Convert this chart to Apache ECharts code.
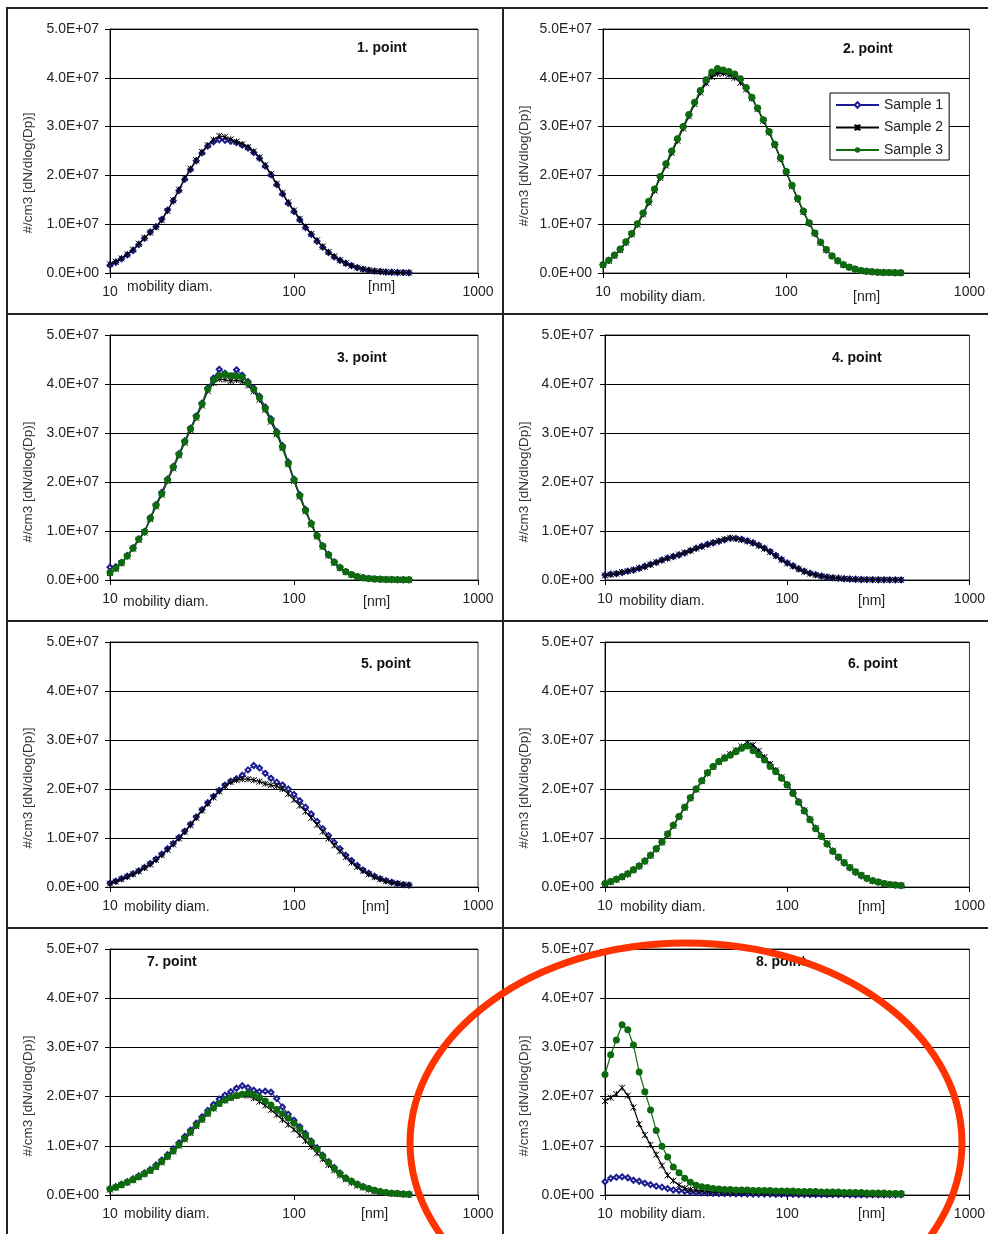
<!DOCTYPE html>
<html>
<head>
<meta charset="utf-8">
<script src="https://cdn.jsdelivr.net/npm/echarts@6/dist/echarts.min.js"></script>
<style>
  html, body { margin: 0; padding: 0; background: #fff; }
  #chart { width: 988px; height: 1234px; }
</style>
</head>
<body>
<div id="chart"></div>
<script>
// ---- DATA (particle number size distributions, values in 1e6 #/cm3) ----
const diam = [10.00,10.75,11.55,12.41,13.34,14.33,15.40,16.55,17.78,19.11,20.54,22.07,23.71,25.48,27.38,29.43,31.62,33.98,36.52,39.24,42.17,45.32,48.70,52.33,56.23,60.43,64.94,69.78,74.99,80.58,86.60,93.06,100.0,107.5,115.5,124.1,133.4,143.3,154.0,165.5,177.8,191.1,205.4,220.7,237.1,254.8,273.8,294.3,316.2,339.8,365.2,392.4,421.7];

const sampleNames = ['Sample 1', 'Sample 2', 'Sample 3'];
const panelTitles = ['1. point', '2. point', '3. point', '4. point', '5. point', '6. point', '7. point', '8. point'];
const xTickLabels = { 10: '10', 100: '100', 1000: '1000' };
const yTickLabels = ['0.0E+00', '1.0E+07', '2.0E+07', '3.0E+07', '4.0E+07', '5.0E+07'];
const xUnitText = '[nm]';
const xNameText = 'mobility diam.';
const yNameText = '#/cm3 [dN/dlog(Dp)]';

const p1s1 = [1.6,2.2,2.9,3.7,4.6,5.8,7.1,8.4,9.5,11.0,12.9,14.8,16.9,19.2,21.2,23.0,24.6,26.0,26.9,27.3,27.2,27.0,26.7,26.2,25.6,24.7,23.5,21.9,20.1,18.1,16.2,14.3,12.6,10.9,9.3,7.9,6.5,5.3,4.2,3.3,2.6,2.0,1.5,1.1,0.8,0.55,0.4,0.3,0.2,0.15,0.1,0.08,0.05];
const p1s2 = [1.8,2.3,3.0,3.8,4.8,6.0,7.2,8.3,9.4,10.8,12.7,14.9,17.1,19.4,21.4,23.1,24.8,26.2,27.3,28.1,27.9,27.4,26.9,26.4,25.8,24.9,23.7,22.1,20.3,18.3,16.4,14.5,12.8,11.1,9.5,8.0,6.7,5.4,4.3,3.4,2.6,2.0,1.5,1.1,0.8,0.6,0.4,0.3,0.2,0.15,0.1,0.07,0.05];

const p2s1 = [1.7,2.6,3.6,4.8,6.3,8.0,10.0,12.2,14.6,17.1,19.7,22.3,24.9,27.4,29.9,32.4,34.9,37.2,39.2,40.6,41.2,41.2,41.0,40.5,39.6,37.9,35.9,33.7,31.3,28.9,26.3,23.5,20.7,17.9,15.2,12.6,10.2,8.1,6.3,4.7,3.5,2.5,1.7,1.2,0.8,0.5,0.35,0.25,0.15,0.1,0.08,0.05,0.04];
const p2s2 = [1.6,2.5,3.5,4.7,6.2,7.9,9.9,12.0,14.4,16.9,19.5,22.0,24.6,27.1,29.6,32.1,34.6,37.0,38.9,40.2,40.8,40.9,40.6,40.0,39.0,37.6,35.8,33.6,31.2,28.8,26.2,23.4,20.6,17.8,15.1,12.5,10.2,8.1,6.2,4.7,3.5,2.5,1.7,1.2,0.8,0.5,0.35,0.25,0.15,0.1,0.07,0.05,0.04];
const p2s3 = [1.7,2.6,3.7,4.9,6.4,8.1,10.1,12.3,14.7,17.2,19.8,22.4,25.0,27.5,30.0,32.5,35.0,37.4,39.6,41.2,41.9,41.6,41.3,40.8,39.8,38.0,36.0,33.8,31.4,29.0,26.4,23.6,20.8,18.0,15.3,12.7,10.3,8.2,6.3,4.8,3.5,2.5,1.7,1.2,0.8,0.5,0.35,0.25,0.15,0.1,0.08,0.05,0.04];

const p3s1 = [2.6,2.7,3.6,5.0,6.6,8.4,9.9,12.7,15.4,17.9,20.6,23.2,25.8,28.4,31.0,33.5,36.1,39.2,41.2,43.0,42.2,41.5,42.9,41.8,40.5,39.2,37.5,35.3,32.9,30.3,27.4,24.1,20.6,17.4,14.4,11.6,9.1,7.0,5.2,3.7,2.6,1.7,1.1,0.7,0.45,0.3,0.2,0.15,0.1,0.08,0.06,0.05,0.04];
const p3s2 = [1.4,2.3,3.4,4.8,6.4,8.2,9.7,12.4,15.0,17.4,20.2,22.8,25.4,28.0,30.6,33.1,35.6,38.6,40.2,41.0,40.9,40.6,40.8,40.5,39.7,38.5,36.8,34.7,32.3,29.7,26.9,23.6,20.2,17.0,14.0,11.3,8.9,6.8,5.0,3.5,2.4,1.6,1.0,0.7,0.45,0.3,0.2,0.15,0.1,0.08,0.06,0.05,0.04];
const p3s3 = [1.5,2.4,3.5,4.9,6.5,8.3,9.8,12.6,15.2,17.6,20.4,23.0,25.6,28.2,30.8,33.3,35.9,39.0,40.8,41.7,42.0,41.7,41.6,41.4,40.2,38.9,37.2,35.0,32.6,30.0,27.1,23.8,20.4,17.2,14.2,11.5,9.0,6.9,5.1,3.6,2.5,1.7,1.1,0.7,0.45,0.3,0.2,0.15,0.1,0.08,0.06,0.05,0.04];

const p4s1 = [1.0,1.2,1.3,1.5,1.8,2.0,2.4,2.8,3.2,3.6,4.1,4.5,4.8,5.1,5.5,6.0,6.5,6.9,7.3,7.6,7.9,8.2,8.5,8.5,8.3,8.0,7.6,7.1,6.5,5.8,5.0,4.2,3.5,2.9,2.3,1.8,1.4,1.1,0.8,0.6,0.45,0.35,0.25,0.2,0.15,0.1,0.08,0.06,0.05,0.04,0.03,0.03,0.02];
const p4s2 = [0.9,1.1,1.3,1.6,1.8,2.1,2.4,2.7,3.1,3.6,4.0,4.4,4.8,5.2,5.6,6.0,6.4,6.8,7.2,7.6,8.0,8.3,8.6,8.4,8.2,7.9,7.5,7.0,6.4,5.7,4.9,4.1,3.4,2.8,2.2,1.7,1.3,1.0,0.8,0.6,0.45,0.35,0.25,0.2,0.15,0.1,0.08,0.06,0.05,0.04,0.03,0.02,0.02];

const p5s1 = [0.8,1.2,1.7,2.2,2.7,3.3,4.0,4.8,5.7,6.7,7.8,8.9,10.1,11.4,12.8,14.3,15.8,17.2,18.5,19.7,20.8,21.6,22.1,22.8,23.9,24.8,24.3,23.2,22.2,21.4,20.8,20.0,18.9,17.6,16.3,14.9,13.4,11.9,10.5,9.1,7.8,6.5,5.4,4.4,3.5,2.8,2.2,1.7,1.3,1.0,0.7,0.5,0.4];
const p5s2 = [0.7,1.1,1.6,2.1,2.6,3.2,3.9,4.6,5.5,6.5,7.6,8.7,9.9,11.2,12.6,14.1,15.6,17.0,18.3,19.5,20.6,21.4,21.8,22.0,22.0,21.8,21.5,21.1,20.8,20.6,20.0,19.0,17.8,16.6,15.4,14.1,12.7,11.3,9.9,8.5,7.3,6.1,5.0,4.1,3.3,2.6,2.0,1.6,1.2,0.9,0.7,0.5,0.35];

const p6s1 = [0.7,1.1,1.6,2.1,2.7,3.5,4.3,5.3,6.5,7.8,9.2,10.8,12.6,14.4,16.3,18.2,20.0,21.7,23.3,24.6,25.6,26.4,27.0,27.7,28.4,29.0,28.4,27.4,26.2,24.9,23.7,22.3,20.9,19.2,17.4,15.6,13.8,12.0,10.4,8.8,7.3,6.0,4.9,3.9,3.0,2.3,1.7,1.3,1.0,0.7,0.5,0.4,0.3];
const p6s2 = [0.6,1.0,1.5,2.0,2.6,3.4,4.2,5.2,6.4,7.7,9.1,10.7,12.5,14.3,16.2,18.1,19.9,21.6,23.2,24.5,25.5,26.4,27.1,27.9,28.7,29.4,29.0,27.8,26.5,25.1,23.8,22.4,20.9,19.2,17.4,15.6,13.8,12.0,10.4,8.9,7.4,6.1,5.0,4.0,3.1,2.4,1.8,1.3,1.0,0.7,0.5,0.4,0.3];
const p6s3 = [0.7,1.1,1.6,2.1,2.7,3.5,4.3,5.3,6.5,7.8,9.2,10.8,12.6,14.4,16.3,18.2,20.0,21.7,23.3,24.6,25.6,26.3,26.9,27.6,28.3,28.8,27.8,27.0,25.9,24.6,23.5,22.2,20.8,19.1,17.3,15.5,13.7,11.9,10.3,8.8,7.3,6.1,5.0,4.0,3.1,2.4,1.8,1.3,1.0,0.7,0.5,0.4,0.3];

const p7s1 = [1.3,1.7,2.2,2.7,3.3,3.9,4.5,5.2,6.1,7.1,8.2,9.4,10.6,11.9,13.2,14.6,15.9,17.2,18.4,19.5,20.3,21.0,21.7,22.2,21.8,21.3,21.0,21.1,20.9,19.6,17.9,16.4,15.2,13.9,12.5,11.0,9.6,8.1,6.8,5.6,4.5,3.5,2.8,2.2,1.7,1.3,0.95,0.7,0.5,0.35,0.3,0.2,0.15];
const p7s2 = [1.1,1.5,2.0,2.5,3.0,3.6,4.2,4.9,5.7,6.6,7.7,8.8,10.0,11.3,12.6,14.0,15.3,16.5,17.6,18.5,19.2,19.7,20.1,20.3,20.2,19.7,19.0,18.2,17.3,16.3,15.3,14.3,13.3,12.2,11.0,9.8,8.5,7.3,6.1,5.0,4.0,3.2,2.5,1.9,1.5,1.1,0.8,0.6,0.4,0.3,0.2,0.15,0.1];
const p7s3 = [1.2,1.6,2.1,2.6,3.1,3.7,4.3,5.0,5.8,6.8,7.9,9.0,10.2,11.5,12.8,14.2,15.4,16.6,17.7,18.6,19.3,19.8,20.2,20.5,20.7,20.4,19.8,19.1,18.3,17.4,16.5,15.6,14.6,13.4,12.1,10.7,9.3,7.9,6.6,5.4,4.3,3.4,2.8,2.2,1.7,1.3,0.95,0.7,0.5,0.35,0.3,0.2,0.15];

const p8s1 = [2.7,3.4,3.6,3.7,3.5,3.0,2.8,2.4,2.1,1.8,1.6,1.3,1.0,0.9,0.75,0.6,0.5,0.45,0.4,0.35,0.3,0.3,0.3,0.25,0.25,0.2,0.2,0.2,0.2,0.2,0.15,0.15,0.15,0.15,0.1,0.1,0.1,0.1,0.1,0.1,0.1,0.1,0.1,0.05,0.05,0.05,0.05,0.05,0.05,0.05,0.05,0.05,0.05];
const p8s2 = [19.1,19.8,20.5,21.8,20.2,17.8,14.4,12.2,10.2,8.2,6.0,4.0,2.9,2.0,1.4,1.1,1.0,0.9,0.8,0.7,0.7,0.6,0.6,0.5,0.5,0.5,0.4,0.4,0.4,0.4,0.3,0.3,0.3,0.3,0.3,0.3,0.2,0.2,0.2,0.2,0.2,0.2,0.2,0.2,0.15,0.15,0.15,0.15,0.1,0.1,0.1,0.1,0.1];
const p8s3 = [24.5,28.5,31.5,34.6,33.6,30.5,25.0,21.0,17.3,13.1,9.9,7.7,5.7,4.5,3.4,2.6,2.0,1.7,1.5,1.3,1.2,1.1,1.1,1.0,1.0,1.0,0.9,0.9,0.9,0.9,0.8,0.8,0.8,0.8,0.7,0.7,0.7,0.7,0.6,0.6,0.6,0.6,0.5,0.5,0.5,0.5,0.4,0.4,0.4,0.4,0.3,0.3,0.3];

const panelSamples = [
  [p1s1, p1s2, null],
  [p2s1, p2s2, p2s3],
  [p3s1, p3s2, p3s3],
  [p4s1, p4s2, null],
  [p5s1, p5s2, null],
  [p6s1, p6s2, p6s3],
  [p7s1, p7s2, p7s3],
  [p8s1, p8s2, p8s3]
];
const UNIT = 1e6;

// ---- LAYOUT / STYLE ----
const FONT = '"Liberation Sans", Arial, sans-serif';
const gridRects = [
  { left: 110, top: 29, width: 368, height: 244 },
  { left: 603, top: 29, width: 371, height: 244 },
  { left: 110, top: 335, width: 368, height: 245 },
  { left: 605, top: 335, width: 369, height: 245 },
  { left: 110, top: 642, width: 368, height: 245 },
  { left: 605, top: 642, width: 369, height: 245 },
  { left: 110, top: 949, width: 368, height: 246 },
  { left: 605, top: 949, width: 369, height: 246 }
];
const titlePos = [[357,48],[843,49],[337,358],[832,358],[361,664],[848,664],[147,962],[756,962]];
const xNamePos = [[127,287],[620,297],[123,602],[619,601],[124,907],[620,907],[124,1214],[620,1214]];
const xUnitPos = [[368,287],[853,297],[363,602],[858,601],[362,907],[858,907],[361,1214],[858,1214]];
const yNamePos = [[28,173],[524,166],[28,482],[524,482],[28,788],[524,788],[28,1096],[524,1096]];

const BLUE = '#1c1c92', BLACK = '#000000', GREEN = '#0d6b0d';
const sampleStyles = [
  { color: BLUE, symbol: 'emptyDiamond', symbolSize: 5, itemStyle: { color: BLUE, borderColor: BLUE, borderWidth: 1 } },
  { color: BLACK, symbol: 'path://M0 0L10 10M10 0L0 10M5 0L5 10', symbolSize: 6, itemStyle: { color: BLACK, borderColor: BLACK, borderWidth: 1 } },
  { color: GREEN, symbol: 'circle', symbolSize: 7, itemStyle: { color: GREEN, borderColor: GREEN, borderWidth: 0 } }
];

const grids = [], xAxes = [], yAxes = [], series = [], graphics = [];

gridRects.forEach((r, k) => {
  grids.push(Object.assign({ show: true, borderColor: '#333', borderWidth: 1, backgroundColor: 'transparent', containLabel: false }, r));
  xAxes.push({
    type: 'log', logBase: 10, min: 10, max: 1000, gridIndex: k,
    axisLine: { show: true, lineStyle: { color: '#000', width: 1 } },
    axisTick: { show: true, length: 5, lineStyle: { color: '#000' } },
    minorTick: { show: false },
    splitLine: { show: false },
    axisLabel: { fontSize: 14, color: '#222', fontFamily: FONT, margin: 12,
      formatter: v => xTickLabels[Math.round(v)] || '' }
  });
  yAxes.push({
    type: 'value', min: 0, max: 5e7, interval: 1e7, gridIndex: k,
    axisLine: { show: true, lineStyle: { color: '#000', width: 1 } },
    axisTick: { show: true, length: 5, lineStyle: { color: '#000' } },
    splitLine: { show: true, lineStyle: { color: '#000', width: 1 } },
    axisLabel: { fontSize: 14, color: '#222', fontFamily: FONT, margin: 11,
      formatter: v => yTickLabels[Math.round(v / 1e7)] }
  });
  panelSamples[k].forEach((arr, j) => {
    if (!arr) return;
    const st = sampleStyles[j];
    series.push({
      type: 'line', name: sampleNames[j], xAxisIndex: k, yAxisIndex: k,
      data: diam.map((d, i) => [d, arr[i] * UNIT]),
      symbol: st.symbol, symbolSize: st.symbolSize, showSymbol: true,
      lineStyle: { color: st.color, width: 1.2 },
      itemStyle: st.itemStyle,
      color: st.color,
      animation: false, silent: true, z: 2 + j
    });
  });
  graphics.push({ type: 'text', x: titlePos[k][0], y: titlePos[k][1], z: 50,
    style: { text: panelTitles[k], fill: '#111', fontSize: 14, fontWeight: 'bold', fontFamily: FONT, align: 'left', verticalAlign: 'middle' } });
  graphics.push({ type: 'text', x: xNamePos[k][0], y: xNamePos[k][1], z: 50,
    style: { text: xNameText, fill: '#222', fontSize: 14, fontFamily: FONT, align: 'left', verticalAlign: 'middle' } });
  graphics.push({ type: 'text', x: xUnitPos[k][0], y: xUnitPos[k][1], z: 50,
    style: { text: xUnitText, fill: '#222', fontSize: 14, fontFamily: FONT, align: 'left', verticalAlign: 'middle' } });
  graphics.push({ type: 'text', x: yNamePos[k][0], y: yNamePos[k][1], rotation: Math.PI / 2, z: 50,
    style: { text: yNameText, fill: '#333', fontSize: 13.5, fontFamily: FONT, align: 'center', verticalAlign: 'middle' } });
});

// page frame (table borders)
const frameLines = [
  [7, 8, 988, 8], [7, 314, 988, 314], [7, 621, 988, 621], [7, 928, 988, 928],
  [7, 7, 7, 1234], [503, 8, 503, 1234]
];
frameLines.forEach(l => graphics.push({ type: 'line', z: 40, shape: { x1: l[0], y1: l[1], x2: l[2], y2: l[3] }, style: { stroke: '#222', lineWidth: 2 } }));

// red annotation ellipse
graphics.push({ type: 'ellipse', z: 100, shape: { cx: 686, cy: 1143, rx: 276, ry: 200 }, style: { fill: 'none', stroke: '#ff3300', lineWidth: 7 } });

const chart = echarts.init(document.getElementById('chart'), null, { renderer: 'canvas' });
chart.setOption({
  backgroundColor: '#fff',
  animation: false,
  textStyle: { fontFamily: FONT },
  grid: grids,
  xAxis: xAxes,
  yAxis: yAxes,
  legend: {
    data: sampleNames, orient: 'vertical', left: 830, top: 93,
    backgroundColor: '#fff', borderColor: '#000', borderWidth: 1,
    padding: [5, 6, 3, 5], itemGap: 8.5, itemWidth: 43, itemHeight: 7,
    selectedMode: false, z: 20,
    textStyle: { fontSize: 14, color: '#222', fontFamily: FONT, lineHeight: 14 }
  },
  series: series,
  graphic: graphics
});
</script>
</body>
</html>
